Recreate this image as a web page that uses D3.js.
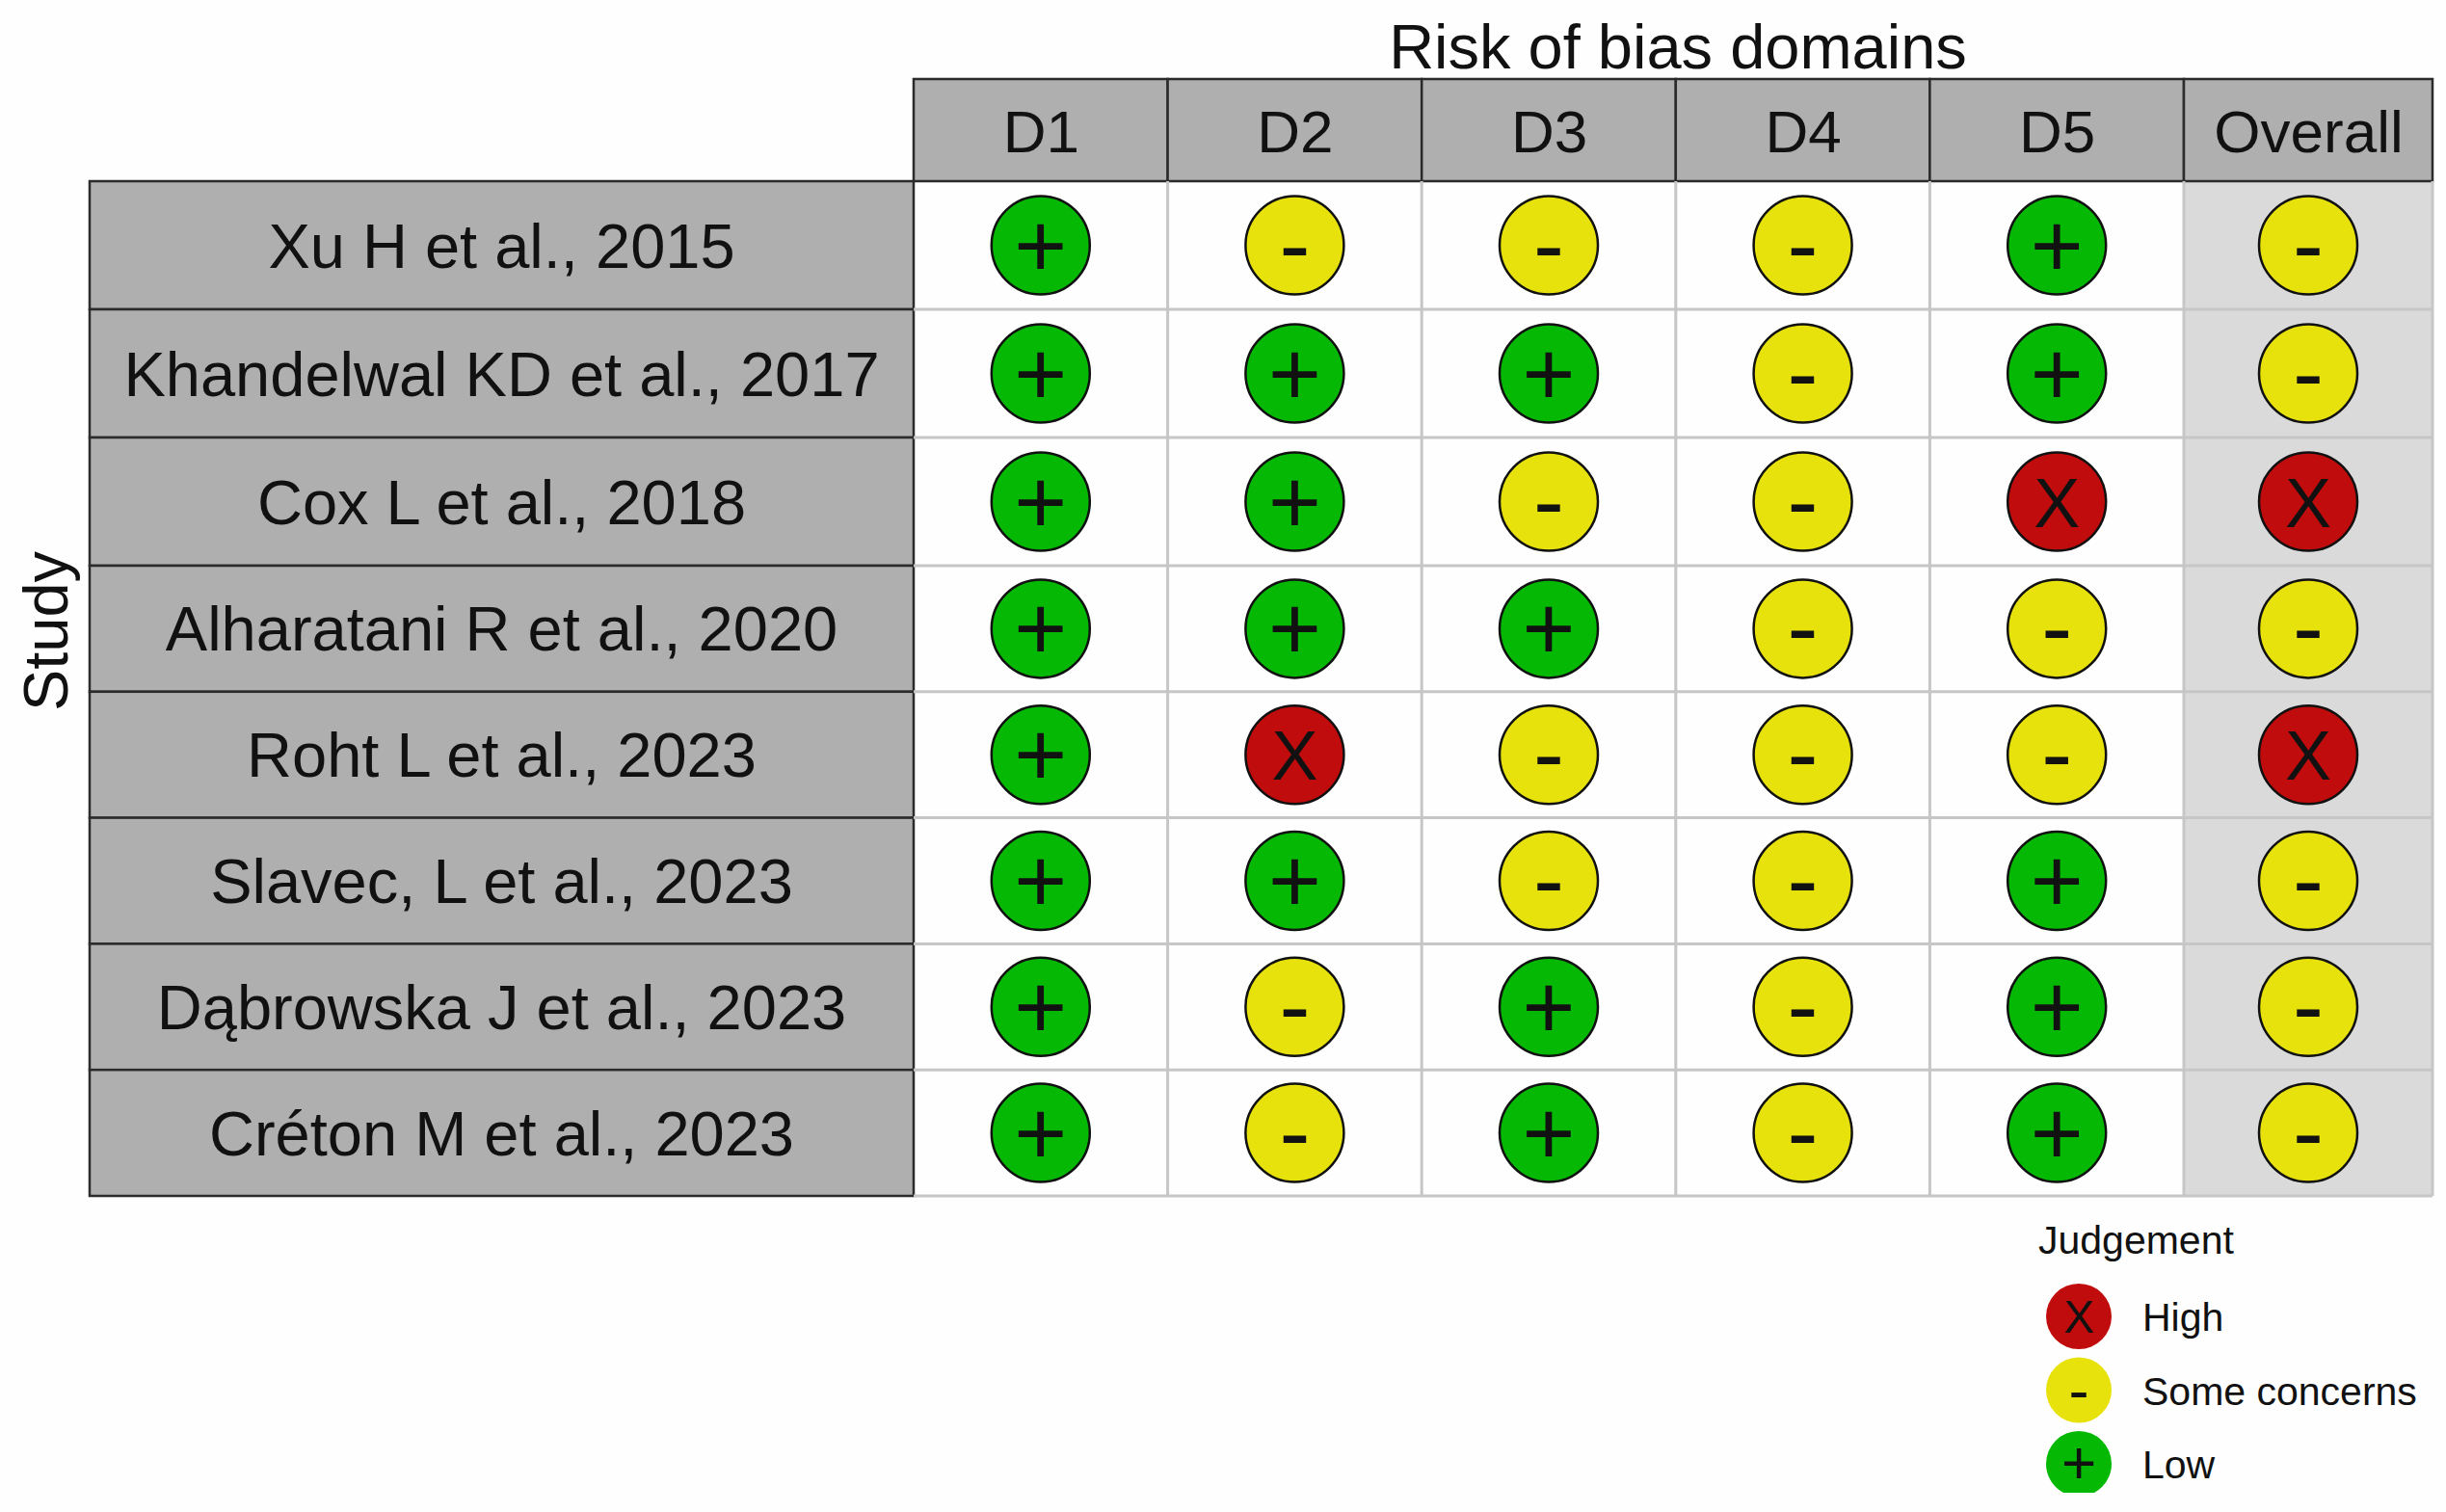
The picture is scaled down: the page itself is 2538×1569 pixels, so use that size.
<!DOCTYPE html>
<html>
<head>
<meta charset="utf-8">
<script src="https://cdn.jsdelivr.net/npm/d3@7"></script>
<style>
  html, body { margin: 0; background: #fefefe; }
  text { font-family: "Liberation Sans", Arial, sans-serif; fill: #111; }
</style>
</head>
<body>
<div id="chart"></div>
<script>
// studies and domains
const studies = [
  "Xu H et al., 2015",
  "Khandelwal KD et al., 2017",
  "Cox L et al., 2018",
  "Alharatani R et al., 2020",
  "Roht L et al., 2023",
  "Slavec, L et al., 2023",
  "Dąbrowska J et al., 2023",
  "Créton M et al., 2023"
];
const domains = ["D1", "D2", "D3", "D4", "D5", "Overall"];

// judgements, one list per domain, same order as studies
const d1 = ["+", "+", "+", "+", "+", "+", "+", "+"];
const d2 = ["-", "+", "+", "+", "X", "+", "-", "-"];
const d3Domain = ["-", "+", "-", "+", "-", "-", "+", "+"];
const d4 = ["-", "-", "-", "-", "-", "-", "-", "-"];
const d5 = ["+", "+", "X", "-", "-", "+", "+", "+"];
const overall = ["-", "-", "X", "-", "X", "-", "-", "-"];
const judgements = [d1, d2, d3Domain, d4, d5, overall];

const legendLevels = ["X", "-", "+"];
const legendLabels = ["High", "Some concerns", "Low"];

const colors = { "X": "#c00c0c", "-": "#e8e20c", "+": "#04b804" };
const symbolSize = { "X": 72, "-": 96, "+": 94 };

const width = 2538, height = 1569;

const svg = d3.select("#chart").append("svg")
  .attr("width", width)
  .attr("height", height)
  .style("display", "block");

// the rows and the last column are not quite even in the picture
const x = d3.scaleLinear().domain([0, 5, 6]).range([948, 2266, 2524]);
const y = d3.scaleLinear().domain([0, 3, 8]).range([188, 587, 1241]);
const headerTop = 82;
const labelLeft = 93;

// overall column background
svg.append("rect")
  .attr("x", x(5)).attr("y", y(0))
  .attr("width", x(6) - x(5)).attr("height", y(8) - y(0))
  .attr("fill", "#dadada");

// header and study label blocks
const gray = "#afafaf";
svg.append("g").selectAll("rect")
  .data(domains)
  .join("rect")
  .attr("x", (d, i) => x(i))
  .attr("y", headerTop)
  .attr("width", (d, i) => x(i + 1) - x(i))
  .attr("height", y(0) - headerTop)
  .attr("fill", gray)
  .attr("stroke", "#2b2b2b")
  .attr("stroke-width", 2.5);

svg.append("g").selectAll("rect")
  .data(studies)
  .join("rect")
  .attr("x", labelLeft)
  .attr("y", (d, i) => y(i))
  .attr("width", x(0) - labelLeft)
  .attr("height", (d, i) => y(i + 1) - y(i))
  .attr("fill", gray)
  .attr("stroke", "#2b2b2b")
  .attr("stroke-width", 2.5);

// grid lines
const grid = svg.append("g").attr("stroke", "#c6c6c6").attr("stroke-width", 3);
grid.selectAll("line.v")
  .data(d3.range(1, 7))
  .join("line")
  .attr("class", "v")
  .attr("x1", d => x(d)).attr("x2", d => x(d))
  .attr("y1", y(0)).attr("y2", y(8));
grid.selectAll("line.h")
  .data(d3.range(1, 9))
  .join("line")
  .attr("class", "h")
  .attr("x1", x(0)).attr("x2", x(6))
  .attr("y1", d => y(d)).attr("y2", d => y(d));

// header labels
const headerScale = d3.scaleLinear().domain([0, 4, 5]).range([x(0.5), x(4.5), x(5.5)]);
const headerAxis = svg.append("g")
  .attr("transform", `translate(0,${(headerTop + y(0)) / 2 + 23})`)
  .call(d3.axisTop(headerScale)
    .tickValues(d3.range(6))
    .tickFormat(i => domains[i])
    .tickSize(0)
    .tickPadding(0));
headerAxis.select(".domain").remove();
headerAxis.attr("font-family", null).attr("font-size", null);
headerAxis.selectAll("text").attr("font-size", 62).attr("fill", "#111");

// study labels
svg.append("g").selectAll("text")
  .data(studies)
  .join("text")
  .attr("x", (labelLeft + x(0)) / 2)
  .attr("y", (d, i) => y(i + 0.5) + 23)
  .attr("text-anchor", "middle")
  .attr("font-size", 65)
  .text(d => d);

// titles
svg.append("text")
  .attr("x", 1741).attr("y", 71)
  .attr("text-anchor", "middle")
  .attr("font-size", 65)
  .text("Risk of bias domains");

svg.append("text")
  .attr("transform", "translate(70,655) rotate(-90)")
  .attr("text-anchor", "middle")
  .attr("font-size", 65)
  .text("Study");

// judgement dots
const cells = judgements.flatMap((col, c) => col.map((v, r) => ({ c, r, v })));
const dots = svg.append("g").selectAll("g")
  .data(cells)
  .join("g")
  .attr("transform", d => `translate(${x(d.c + 0.5)},${y(d.r + 0.5)})`);
dots.append("circle")
  .attr("r", 51)
  .attr("fill", d => colors[d.v])
  .attr("stroke", "#111")
  .attr("stroke-width", 2.5);
dots.append("text")
  .attr("text-anchor", "middle")
  .attr("font-size", d => symbolSize[d.v])
  .attr("y", d => d.v === "X" ? 26 : 32)
  .text(d => d.v);

// legend, cut off by the edge of the figure
svg.append("defs").append("clipPath").attr("id", "legend-clip")
  .append("rect").attr("x", 2000).attr("y", 1250).attr("width", 538).attr("height", 299);

const legend = svg.append("g").attr("clip-path", "url(#legend-clip)");
legend.append("text")
  .attr("x", 2115).attr("y", 1301)
  .attr("font-size", 41)
  .text("Judgement");

const legendY = d3.scalePoint().domain(legendLevels).range([1366, 1519]);
const items = legend.selectAll("g")
  .data(legendLevels)
  .join("g")
  .attr("transform", d => `translate(2157,${legendY(d)})`);
items.append("circle")
  .attr("r", 34)
  .attr("fill", d => colors[d]);
items.append("text")
  .attr("text-anchor", "middle")
  .attr("font-size", d => symbolSize[d] * 0.66)
  .attr("y", d => d === "X" ? 17 : 21)
  .text(d => d);
items.append("text")
  .attr("x", 66)
  .attr("y", 15)
  .attr("font-size", 41)
  .text((d, i) => legendLabels[i]);
</script>
</body>
</html>
